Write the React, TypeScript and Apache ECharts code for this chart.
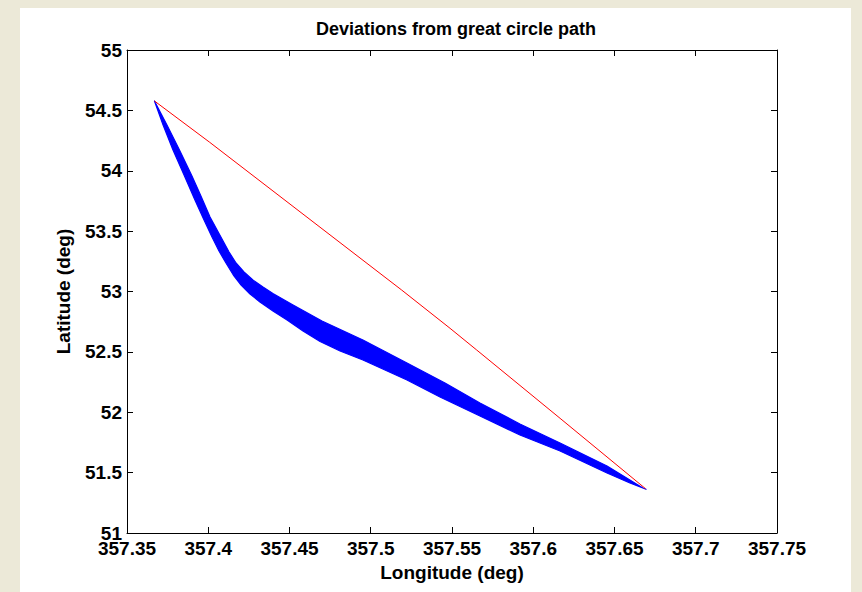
import React, { useEffect, useRef } from "react";
import * as echarts from "echarts";

// Great circle path (red)
const gcLon = [357.3669, 357.4009, 357.5190, 357.5488, 357.5652, 357.6165, 357.6691];
const gcLat = [54.5777, 54.2356, 53.0124, 52.6952, 52.5155, 51.9499, 51.3669];

// Envelope of the deviated tracks (blue band): inner (upper/right) edge
const upperLon = [357.3669, 357.3746, 357.3823, 357.3897, 357.3955, 357.4011, 357.4078, 357.4128, 357.4171, 357.4220, 357.4275, 357.4337, 357.4398, 357.4522, 357.4700, 357.4952, 357.5223, 357.5457, 357.5672, 357.5918, 357.6165, 357.6454, 357.6675, 357.6694];
const upperLat = [54.5777, 54.3789, 54.1719, 53.9648, 53.7909, 53.6170, 53.4514, 53.3271, 53.2360, 53.1615, 53.0952, 53.0373, 52.9834, 52.8882, 52.7557, 52.5983, 52.4079, 52.2422, 52.0766, 51.9027, 51.7453, 51.5549, 51.3727, 51.3619];
// outer (lower/left) edge
const lowerLon = [357.3669, 357.3722, 357.3783, 357.3851, 357.3918, 357.3974, 357.4023, 357.4066, 357.4109, 357.4158, 357.4202, 357.4257, 357.4318, 357.4398, 357.4485, 357.4583, 357.4688, 357.4811, 357.4952, 357.5223, 357.5426, 357.5672, 357.5918, 357.6165, 357.6454, 357.6595, 357.6694];
const lowerLat = [54.5777, 54.3789, 54.1719, 53.9648, 53.7578, 53.5921, 53.4514, 53.3354, 53.2360, 53.1284, 53.0538, 52.9793, 52.9130, 52.8385, 52.7640, 52.6729, 52.5859, 52.5073, 52.4327, 52.2671, 52.1263, 51.9689, 51.8116, 51.6791, 51.4969, 51.4141, 51.3619];

const xMin = 357.35, xMax = 357.75, xStep = 0.05;
const yMin = 51, yMax = 55, yStep = 0.5;

const FONT = "'Liberation Sans', Arial, Helvetica, sans-serif";

export default function App() {
  const ref = useRef<HTMLDivElement>(null);
  useEffect(() => {
    document.body.style.margin = "0";
    const chart = echarts.init(ref.current!, null, { renderer: "svg" });
    const axisCommon = {
      axisLine: { show: true, lineStyle: { color: "#000", width: 1 } },
      axisTick: { show: true, inside: true, length: 6, lineStyle: { color: "#000", width: 1 } },
      splitLine: { show: false },
    };
    const xCommon = { type: "value", min: xMin, max: xMax, interval: xStep, ...axisCommon };
    const yCommon = { type: "value", min: yMin, max: yMax, interval: yStep, ...axisCommon };
    const redData = gcLon.map((v, i) => [v, gcLat[i]]);
    chart.setOption({
      animation: false,
      backgroundColor: "transparent",
      textStyle: { fontFamily: FONT },
      title: {
        text: "Deviations from great circle path",
        left: 451,
        textAlign: "center",
        top: 15,
        textStyle: { fontFamily: FONT, fontSize: 18, fontWeight: "bold", color: "#000" },
      },
      grid: { left: 127, top: 50, width: 650, height: 483 },
      xAxis: [
        {
          ...xCommon,
          position: "bottom",
          name: "Longitude (deg)",
          nameLocation: "middle",
          nameGap: 30,
          nameTextStyle: { fontFamily: FONT, fontSize: 19, fontWeight: "bold", color: "#000" },
          axisLabel: {
            margin: 6,
            fontFamily: FONT,
            fontSize: 19,
            fontWeight: "bold",
            color: "#000",
            formatter: (v: number) => String(Number(v.toFixed(2))),
          },
        },
        { ...xCommon, position: "top", axisLabel: { show: false } },
      ],
      yAxis: [
        {
          ...yCommon,
          position: "left",
          name: "Latitude (deg)",
          nameLocation: "middle",
          nameRotate: 90,
          nameGap: 54,
          nameTextStyle: { fontFamily: FONT, fontSize: 19, fontWeight: "bold", color: "#000" },
          axisLabel: {
            margin: 5,
            fontFamily: FONT,
            fontSize: 19,
            fontWeight: "bold",
            color: "#000",
            formatter: (v: number) => String(Number(v.toFixed(1))),
          },
        },
        { ...yCommon, position: "right", axisLabel: { show: false } },
      ],
      series: [
        {
          type: "custom",
          name: "Deviated tracks",
          xAxisIndex: 0,
          yAxisIndex: 0,
          data: [[upperLon[0], upperLat[0]]],
          renderItem: (params: any, api: any) => {
            const pts: number[][] = [];
            for (let i = 0; i < upperLon.length; i++) pts.push(api.coord([upperLon[i], upperLat[i]]));
            for (let i = lowerLon.length - 1; i >= 0; i--) pts.push(api.coord([lowerLon[i], lowerLat[i]]));
            return {
              type: "polygon",
              shape: { points: pts },
              style: { fill: "#0000FF", stroke: "#0000FF", lineWidth: 1.2, lineJoin: "round" },
            };
          },
          z: 2,
        },
        {
          type: "line",
          name: "Great circle",
          xAxisIndex: 0,
          yAxisIndex: 0,
          data: redData,
          symbol: "none",
          lineStyle: { color: "#FF0000", width: 1 },
          z: 3,
        },
      ],
    });
    return () => chart.dispose();
  }, []);
  return (
    <div style={{ position: "relative", width: 862, height: 592, background: "#ECE9D8", overflow: "hidden" }}>
      <div style={{ position: "absolute", left: 20, top: 8, width: 831, height: 584, background: "#FFFFFF" }} />
      <div ref={ref} style={{ position: "absolute", left: 0, top: 0, width: 862, height: 592 }} />
    </div>
  );
}
